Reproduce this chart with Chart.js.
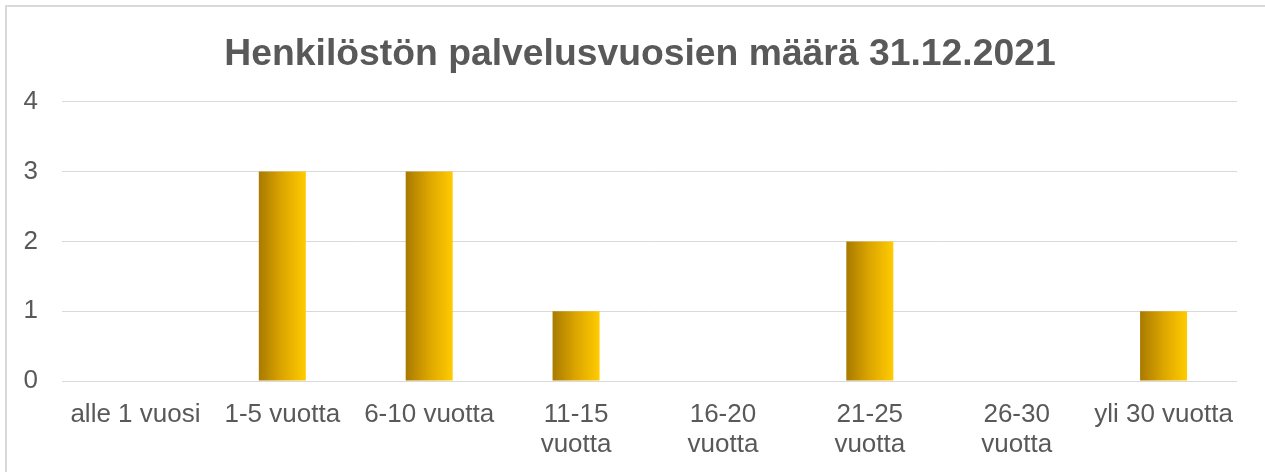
<!DOCTYPE html>
<html>
<head>
<meta charset="utf-8">
<script src="https://cdn.jsdelivr.net/npm/chart.js@4/dist/chart.umd.min.js"></script>
<style>
  body { margin: 0; background: #fff; overflow: hidden; }
  #kehys { position: absolute; left: 5px; top: 5px; width: 1300px; height: 500px; border: 2px solid #d9d9d9; }
  #wrap { position: absolute; left: 0; top: 0; width: 1265px; height: 472px; }
</style>
</head>
<body>
<div id="kehys"></div>
<div id="wrap"><canvas id="graafi"></canvas></div>
<script>
const otsikko = "Henkilöstön palvelusvuosien määrä 31.12.2021";
const kategoriat = [
    "alle 1 vuosi",
    "1-5 vuotta",
    "6-10 vuotta",
    ["11-15", "vuotta"],
    ["16-20", "vuotta"],
    ["21-25", "vuotta"],
    ["26-30", "vuotta"],
    "yli 30 vuotta"
];
const henkilot = [0, 3, 3, 1, 0, 2, 0, 1];
const yTikit = [0, 1, 2, 3, 4];

const tekstiVari = "#595959";
const viivaVari = "#d9d9d9";
const palkkiOsuus = 0.32;

// liukuväri jokaiselle palkille erikseen
function palkinVari(c) {
    let chart = c.chart;
    let alue = chart.chartArea;
    if (!alue || c.dataIndex === undefined) return "#FFC800";
    let x = chart.scales.x.getPixelForValue(c.dataIndex);
    let w = (alue.right - alue.left) / kategoriat.length * palkkiOsuus;
    let g = chart.ctx.createLinearGradient(x - w / 2, 0, x + w / 2, 0);
    g.addColorStop(0, "#A87A00");
    g.addColorStop(0.5, "#DDA600");
    g.addColorStop(1, "#FFCB00");
    return g;
}

new Chart(document.getElementById("graafi"), {
    type: "bar",
    data: {
        labels: kategoriat,
        datasets: [{
            label: "Henkilöt",
            data: henkilot,
            backgroundColor: palkinVari,
            borderWidth: 0,
            barPercentage: palkkiOsuus,
            categoryPercentage: 1
        }]
    },
    options: {
        responsive: true,
        maintainAspectRatio: false,
        animation: false,
        layout: { padding: { left: 15, right: 0, top: 0, bottom: 0 } },
        plugins: {
            legend: { display: false },
            tooltip: { enabled: false },
            title: {
                display: true,
                text: otsikko,
                color: tekstiVari,
                font: { family: "Liberation Sans, Arial, sans-serif", size: 37.3, weight: "bold", lineHeight: 1.2 },
                padding: { top: 32, bottom: 25 }
            }
        },
        scales: {
            x: {
                grid: { display: false },
                border: { display: false },
                ticks: {
                    color: tekstiVari,
                    font: { family: "Liberation Sans, Arial, sans-serif", size: 26, lineHeight: 1.154 },
                    padding: 11,
                    maxRotation: 0,
                    autoSkip: false
                },
                afterFit: s => { s.height = 91; }
            },
            y: {
                min: 0,
                max: 4,
                afterBuildTicks: s => { s.ticks = yTikit.map(v => ({ value: v })); },
                grid: { color: viivaVari, lineWidth: 1, drawTicks: false },
                border: { display: false },
                ticks: {
                    color: tekstiVari,
                    font: { family: "Liberation Sans, Arial, sans-serif", size: 26 },
                    padding: 24
                },
                afterFit: s => { s.width = 47; }
            },
            // tyhjä tila oikealla
            oikea: {
                type: "linear",
                position: "right",
                grid: { display: false },
                border: { display: false },
                ticks: { display: false },
                afterFit: s => { s.width = 28; }
            }
        }
    }
});
</script>
</body>
</html>
